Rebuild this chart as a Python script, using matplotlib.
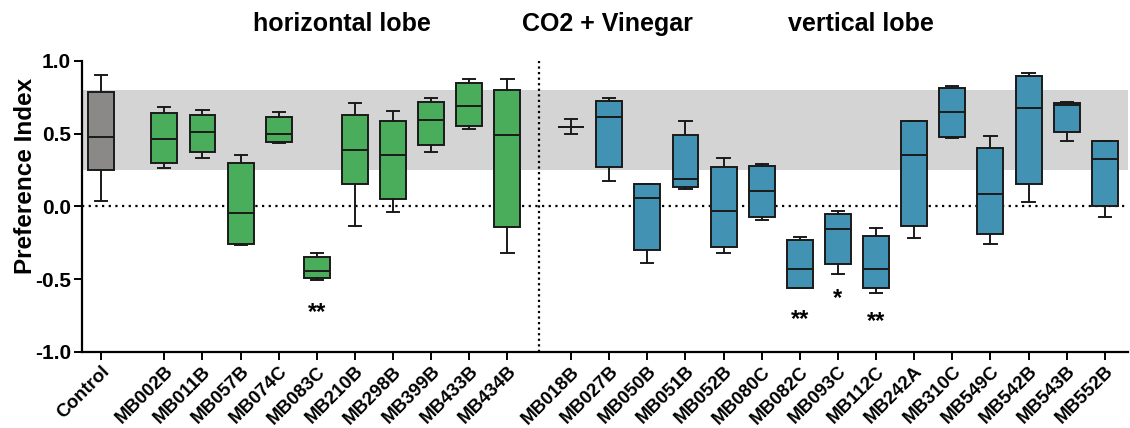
import numpy as np
import matplotlib.pyplot as plt
import matplotlib as mpl

mpl.rcParams.update({
    'font.family': ['Liberation Sans', 'DejaVu Sans'],
    'font.weight': 'bold',
    'axes.spines.right': False, 'axes.spines.top': False,
})

# ---- data ----
control = ['Control']
horiz = ['MB002B', 'MB011B', 'MB057B', 'MB074C', 'MB083C', 'MB210B',
         'MB298B', 'MB399B', 'MB433B', 'MB434B']
vert = ['MB018B', 'MB027B', 'MB050B', 'MB051B', 'MB052B', 'MB080C', 'MB082C',
        'MB093C', 'MB112C', 'MB242A', 'MB310C', 'MB549C', 'MB542B', 'MB543B',
        'MB552B']

# min, q1, median, q3, max
ctrl_stats = [0.04, 0.25, 0.475, 0.79, 0.90]

h_min = [0.265, 0.333, -0.265, 0.436, -0.507, -0.136, -0.038, 0.375, 0.533, -0.322]
h_q1 = [0.301, 0.372, -0.260, 0.443, -0.494, 0.157, 0.052, 0.420, 0.556, -0.143]
h_med = [0.462, 0.514, -0.047, 0.500, -0.441, 0.386, 0.354, 0.592, 0.693, 0.489]
h_q3 = [0.640, 0.629, 0.301, 0.617, -0.349, 0.631, 0.585, 0.718, 0.849, 0.803]
h_max = [0.686, 0.663, 0.352, 0.647, -0.322, 0.709, 0.654, 0.748, 0.876, 0.876]

v_min = [0.498, 0.178, -0.391, 0.120, -0.322, -0.095, -0.562, -0.462, -0.594,
         -0.216, 0.469, -0.260, 0.033, 0.450, -0.070]
v_q1 = [0.549, 0.274, -0.301, 0.134, -0.278, -0.074, -0.562, -0.397, -0.562,
        -0.132, 0.475, -0.189, 0.155, 0.510, 0.003]
v_med = [0.549, 0.615, 0.058, 0.191, -0.033, 0.109, -0.430, -0.152, -0.430,
         0.354, 0.647, 0.088, 0.675, 0.695, 0.329]
v_q3 = [0.549, 0.727, 0.152, 0.494, 0.269, 0.278, -0.228, -0.049, -0.205,
        0.585, 0.817, 0.404, 0.899, 0.711, 0.448]
v_max = [0.601, 0.748, 0.152, 0.590, 0.333, 0.292, -0.207, -0.033, -0.145,
         0.590, 0.826, 0.487, 0.918, 0.716, 0.448]

# significance marks: (label, text, y)
sig_marks = [('MB083C', '**', -0.73), ('MB082C', '**', -0.78),
             ('MB093C', '*', -0.63), ('MB112C', '**', -0.79)]

band = (0.25, 0.80)

# ---- positions ----
pos_ctrl = [0.0]
pos_h = [1.66 + i for i in range(len(horiz))]
pos_v = [12.33 + i for i in range(len(vert))]
labels = control + horiz + vert
positions = pos_ctrl + pos_h + pos_v
pos_of = dict(zip(labels, positions))


def make_stats(lo, q1, med, q3, hi):
    return [dict(whislo=a, q1=b, med=c, q3=d, whishi=e, fliers=[])
            for a, b, c, d, e in zip(lo, q1, med, q3, hi)]


fig = plt.figure(figsize=(11.3, 4.28), dpi=100)
ax = fig.add_axes([0.0726, 0.1776, 0.926, 0.68])

ax.axhspan(band[0], band[1], color='#d4d4d4', zorder=0, lw=0)
ax.axhline(0, color='black', ls=(0, (1, 2)), lw=1.6, zorder=1)
ax.axvline(11.5, color='black', ls=(0, (1, 1.5)), lw=1.6, zorder=1)

groups = [
    (make_stats(*[[s] for s in ctrl_stats]), pos_ctrl, '#8a8987'),
    (make_stats(h_min, h_q1, h_med, h_q3, h_max), pos_h, '#4aad5b'),
    (make_stats(v_min, v_q1, v_med, v_q3, v_max), pos_v, '#4292b3'),
]
for stats, pos, col in groups:
    ax.bxp(stats, positions=pos, widths=0.68, capwidths=0.32,
           showfliers=False, patch_artist=True,
           boxprops=dict(facecolor=col, edgecolor='#1a1a1a', lw=1.4),
           medianprops=dict(color='#1a1a1a', lw=1.4),
           whiskerprops=dict(color='#1a1a1a', lw=1.4),
           capprops=dict(color='#1a1a1a', lw=1.4))

for lab, txt, y in sig_marks:
    ax.text(pos_of[lab], y, txt, ha='center', va='center',
            fontsize=17, fontweight='bold')

ax.set_ylim(-1.0, 1.0)
ax.set_xlim(-0.5, 26.95)
ax.set_yticks([-1.0, -0.5, 0.0, 0.5, 1.0])
ax.set_yticklabels(['-1.0', '-0.5', '0.0', '0.5', '1.0'], fontsize=15,
                   fontweight='bold')
ax.set_xticks(positions)
ax.set_xticklabels(labels, rotation=45, ha='right', rotation_mode='anchor',
                   fontsize=13.5, fontweight='bold')
ax.set_ylabel('Preference Index', fontsize=17.5, fontweight='bold')
ax.yaxis.set_label_coords(-0.043, 0.605)
ax.tick_params(axis='both', width=1.4, length=6, direction='out', pad=2)
for sp in ['left', 'bottom']:
    ax.spines[sp].set_linewidth(1.6)

fig.text(342 / 1130, 1 - 24 / 428, 'horizontal lobe', ha='center',
         va='center', fontsize=18, fontweight='bold')
fig.text(607 / 1130, 1 - 24 / 428, 'CO2 + Vinegar', ha='center',
         va='center', fontsize=18, fontweight='bold')
fig.text(861 / 1130, 1 - 24 / 428, 'vertical lobe', ha='center',
         va='center', fontsize=18, fontweight='bold')

fig.savefig('out.png', dpi=100, facecolor='white')
